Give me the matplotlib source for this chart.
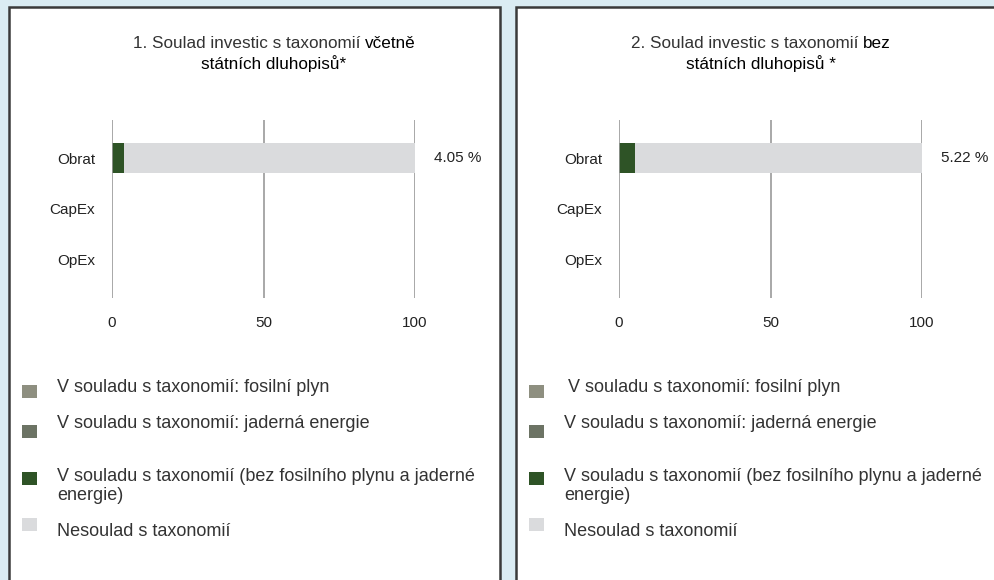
import matplotlib
matplotlib.use("Agg")
import matplotlib.pyplot as plt
from matplotlib.patches import Rectangle

# ---------------- data ----------------
categories = ["Obrat", "CapEx", "OpEx"]
fossil_gas = [0.0, 0.0, 0.0]
nuclear = [0.0, 0.0, 0.0]
aligned_left = [4.05, 0.0, 0.0]
not_aligned_left = [95.95, 0.0, 0.0]
aligned_right = [5.22, 0.0, 0.0]
not_aligned_right = [94.78, 0.0, 0.0]
value_labels_left = ["4.05 %", "", ""]
value_labels_right = ["5.22 %", "", ""]
x_ticks = [0, 50, 100]
title_left = ("1. Soulad investic s taxonomií ", "včetně", "státních dluhopisů*")
title_right = ("2. Soulad investic s taxonomií ", "bez", "státních dluhopisů *")
legend_labels = [
    "V souladu s taxonomií: fosilní plyn",
    "V souladu s taxonomií: jaderná energie",
    "V souladu s taxonomií (bez fosilního plynu a jaderné\nenergie)",
    "Nesoulad s taxonomií",
]
colors = ["#8e8f80", "#6c7364", "#2e5326", "#dadbdd"]

fam = ["Liberation Sans", "DejaVu Sans"]

W, H = 995, 580
fig = plt.figure(figsize=(W / 100, H / 100), dpi=100)
fig.patch.set_facecolor("#daecf3")


def px(x, y):
    return x / W, 1 - y / H


# panels
for x0, x1 in [(9, 500), (516, 1010)]:
    fig.add_artist(Rectangle(px(x0, 600), (x1 - x0) / W, (600 - 7) / H,
                             transform=fig.transFigure, facecolor="white",
                             edgecolor="#3a3a3a", linewidth=1.8, zorder=0))


def panel(ax_left, aligned, not_aligned, vlabels, title, title_cx, leg_x, first_indent):
    ax = fig.add_axes([ax_left / W, 1 - 298 / H, 303 / W, 178 / H])
    ax.set_facecolor("none")
    y = list(range(len(categories)))
    ax.barh(y, fossil_gas, height=0.59, color=colors[0], zorder=2)
    left = [a for a in fossil_gas]
    ax.barh(y, nuclear, left=left, height=0.59, color=colors[1], zorder=2)
    left = [a + b for a, b in zip(left, nuclear)]
    ax.barh(y, aligned, left=left, height=0.59, color=colors[2], zorder=2)
    left = [a + b for a, b in zip(left, aligned)]
    ax.barh(y, not_aligned, left=left, height=0.59, color=colors[3], zorder=1)
    ax.set_xlim(0, 100)
    ax.set_ylim(2.75, -0.75)
    ax.set_xticks(x_ticks)
    ax.set_xticklabels([str(t) for t in x_ticks], family=fam, fontsize=11, color="#222")
    ax.set_yticks(y)
    ax.set_yticklabels(categories, family=fam, fontsize=11, color="#222")
    ax.tick_params(axis="y", length=0, pad=12)
    ax.tick_params(axis="x", length=0, pad=13)
    for s in ax.spines.values():
        s.set_visible(False)
    for t in x_ticks:
        ax.axvline(t, color="#9a9a9a", linewidth=1.2, zorder=3 if t == 0 else 0)
    for yi, lab in zip(y, vlabels):
        if lab:
            ax.text(114, yi, lab, ha="center", va="center", family=fam,
                    fontsize=11, color="#222", clip_on=False)

    # title
    r = fig.canvas.get_renderer()
    t1 = fig.text(0, 0, title[0], family=fam, fontsize=12.3, color="#333", va="center")
    t2 = fig.text(0, 0, title[1], family=fam, fontsize=12.3, color="#000",
                  va="center")
    w1 = t1.get_window_extent(r).width
    w2 = t2.get_window_extent(r).width
    start = title_cx - (w1 + w2) / 2
    t1.set_position(px(start, 44))
    t2.set_position(px(start + w1, 44))
    fig.text(*px(title_cx, 64), title[2], family=fam, fontsize=12.3, color="#000",
             ha="center", va="center")

    # legend
    sq_y = [391, 431, 478, 524]
    txt_y = [388, 424, 486, 532]
    for i, (c, lab, sy, ty) in enumerate(zip(colors, legend_labels, sq_y, txt_y)):
        fig.add_artist(Rectangle(px(leg_x, sy + 6.5), 15 / W, 13 / H,
                                 transform=fig.transFigure, facecolor=c,
                                 edgecolor="none"))
        dx = first_indent if i == 0 else 0
        fig.text(*px(leg_x + 35 + dx, ty), lab, family=fam, fontsize=13,
                 color="#333", va="center", linespacing=1.2)


panel(112, aligned_left, not_aligned_left, value_labels_left, title_left, 274, 22, 0)
panel(619, aligned_right, not_aligned_right, value_labels_right, title_right, 761, 529, 4)

fig.savefig("out.png", dpi=100, facecolor=fig.get_facecolor())
